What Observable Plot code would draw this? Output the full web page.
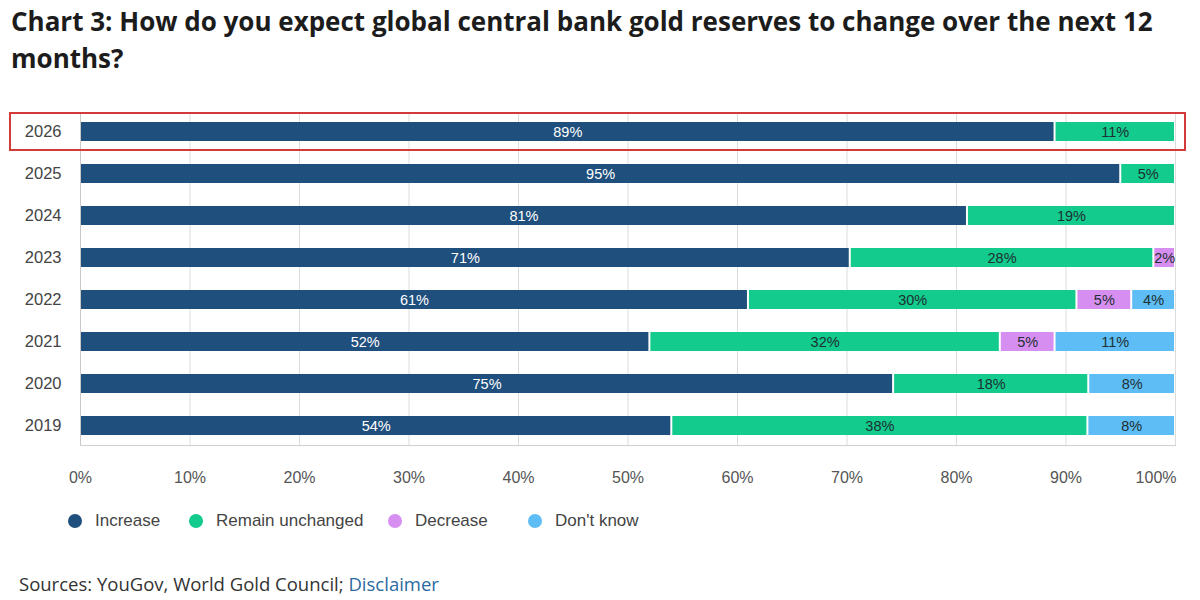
<!DOCTYPE html>
<html>
<head>
<meta charset="utf-8">
<script src="https://cdn.jsdelivr.net/npm/d3@7"></script>
<script src="https://cdn.jsdelivr.net/npm/@observablehq/plot@0.6"></script>
<style>
  body { margin: 0; background: #fff; width: 1200px; height: 600px; overflow: hidden; }
  #title { position: absolute; left: 11px; top: 3px; width: 1180px; font-family: "Open Sans", "Noto Sans", sans-serif; font-weight: 700; font-size: 26px; line-height: 37px; color: #1c1c1c; }
  #chart { position: absolute; left: 0; top: 100px; }
  #legend { position: absolute; left: 0; top: 510px; width: 1200px; height: 22px; font-family: "Liberation Sans", Arial, sans-serif; font-size: 17px; color: #444; }
  #legend .item { position: absolute; top: 0; display: flex; align-items: center; gap: 13px; height: 22px; white-space: nowrap; }
  #legend .dot { width: 14px; height: 14px; border-radius: 50%; display: inline-block; }
  #source { position: absolute; left: 19px; top: 572px; font-family: "Open Sans", "Noto Sans", sans-serif; font-size: 18.5px; line-height: 24px; color: #333; }
  #source span { color: #2b6aa0; }
  #box { position: absolute; border: 2px solid #d33a3a; box-sizing: border-box; }
</style>
</head>
<body>
<div id="title">Chart 3: How do you expect global central bank gold reserves to change over the next 12 months?</div>
<div id="chart"></div>
<div id="legend"></div>
<div id="source">Sources: YouGov, World Gold Council; <span>Disclaimer</span></div>
<script>
const years = ["2026", "2025", "2024", "2023", "2022", "2021", "2020", "2019"];
const categories = ["Increase", "Remain unchanged", "Decrease", "Don't know"];
const colors = ["#1f4f7d", "#12cb8c", "#d68ef0", "#5dbdf4"];
const increase = [89, 95, 81, 71, 61, 52, 75, 54];
const remain = [11, 5, 19, 28, 30, 32, 18, 38];
const decrease = [0, 0, 0, 2, 5, 5, 0, 0];
const dontKnow = [0, 0, 0, 0, 4, 11, 8, 8];
const xTicks = [0, 0.1, 0.2, 0.3, 0.4, 0.5, 0.6, 0.7, 0.8, 0.9, 1];

const series = [increase, remain, decrease, dontKnow];
const rows = [];
years.forEach((year, i) => {
  categories.forEach((cat, j) => {
    const v = series[j][i];
    if (v > 0) rows.push({year, cat, value: v});
  });
});

const stackOpts = {x: "value", y: "year", z: "cat", offset: "normalize", order: categories};
const axisStyle = {tickSize: 0, tickPadding: 26, tickFormat: d3.format(".0%"), fontSize: 16, fill: "#555", label: null};

const plot = Plot.plot({
  width: 1200,
  height: 400,
  marginLeft: 80,
  marginRight: 25,
  marginTop: 12,
  marginBottom: 55,
  style: {fontFamily: "'Liberation Sans', Arial, sans-serif", background: "transparent"},
  x: {domain: [0, 1], label: null},
  y: {domain: years, paddingInner: 0.54, paddingOuter: 0.23, label: null},
  color: {domain: categories, range: colors},
  marks: [
    Plot.gridX(xTicks, {stroke: "#dcdcdc", strokeOpacity: 1}),
    Plot.ruleX([0], {stroke: "#c8c8c8"}),
    Plot.frame({anchor: "bottom", stroke: "#d0d0d0"}),
    Plot.barX(rows, Plot.stackX({...stackOpts, fill: "cat", insetLeft: 1, insetRight: 1})),
    Plot.text(rows, Plot.stackX({...stackOpts, text: d => d.cat === "Increase" ? d.value + "%" : null, fill: "white", fontSize: 14.5})),
    Plot.text(rows, Plot.stackX({...stackOpts, text: d => d.cat !== "Increase" ? d.value + "%" : null, fill: "#1f2f33", fontSize: 14.5})),
    Plot.axisX(xTicks.slice(0, -1), axisStyle),
    Plot.axisX(xTicks.slice(-1), {...axisStyle, textAnchor: "end", dx: 1}),
    Plot.axisY({tickSize: 0, tickPadding: 19, fontSize: 16.5, fill: "#444", label: null})
  ]
});
document.getElementById("chart").appendChild(plot);

// annotation box around the 2026 row, derived from the y scale
const ys = plot.scale("y");
const top2026 = ys.apply("2026");
const bw = ys.bandwidth;
const box = document.createElement("div");
box.id = "box";
box.style.left = "9px";
box.style.width = (1186 - 9) + "px";
box.style.top = (100 + top2026 - 10) + "px";
box.style.height = (bw + 20) + "px";
document.body.appendChild(box);

// legend items (HTML), positioned like the reference legend
const legendLeft = [68, 189, 388, 528];
const legend = document.getElementById("legend");
categories.forEach((c, i) => {
  const item = document.createElement("div");
  item.className = "item";
  item.style.left = legendLeft[i] + "px";
  item.innerHTML = `<span class="dot" style="background:${colors[i]}"></span><span>${c}</span>`;
  legend.appendChild(item);
});
</script>
</body>
</html>
